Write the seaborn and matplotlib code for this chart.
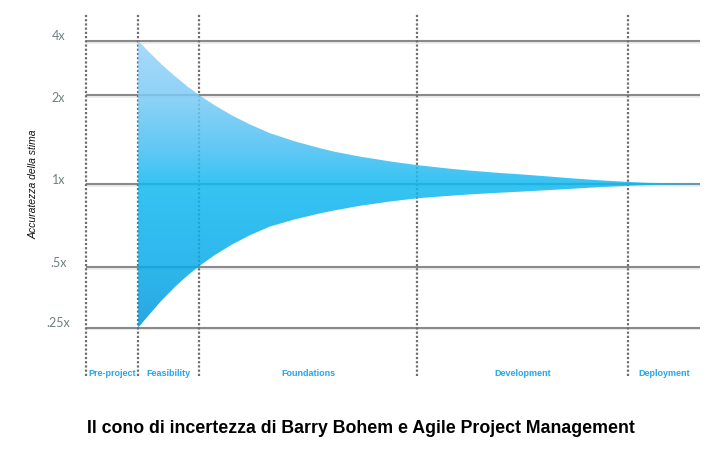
import numpy as np
import matplotlib
matplotlib.use("Agg")
import matplotlib.pyplot as plt
import matplotlib.transforms as mtransforms
import matplotlib.patheffects as pe
from matplotlib.colors import LinearSegmentedColormap
import seaborn as sns

# --- DATA (x = % of project time, y = estimate multiplier) ---
phase_names = ["Pre-project", "Feasibility", "Foundations", "Development", "Deployment"]
phase_edges = [0, 8.5, 18.4, 53.9, 88.3, 100]

cone_x = [8.5, 10.42, 12.38, 14.5, 16.61, 18.57, 21.01, 23.78, 26.71, 29.97,
          34.04, 38.11, 40.55, 44.63, 49.51, 53.91, 59.28, 62.54, 67.43, 70.68,
          74.76, 78.83, 82.9, 86.16, 88.27, 91.04, 95.11, 100]
cone_upper = [4.0, 3.433, 2.947, 2.543, 2.219, 1.989, 1.843, 1.706, 1.590, 1.485,
              1.3935, 1.3215, 1.285, 1.2379, 1.1924, 1.1586, 1.1265, 1.110, 1.0895, 1.0785,
              1.0626, 1.0462, 1.0316, 1.022, 1.0165, 1.0102, 1.0063, 1.0031]
cone_lower = [0.25, 0.2932, 0.3432, 0.3998, 0.4572, 0.5075, 0.5543, 0.6045, 0.6532, 0.7021,
              0.7455, 0.783, 0.8035, 0.8341, 0.8645, 0.8878, 0.9068, 0.9171, 0.9302, 0.9379,
              0.9489, 0.96, 0.9721, 0.9802, 0.9851, 0.9901, 0.9934, 0.9967]

levels = [0.25, 0.5, 1, 2, 4]
level_labels = [".25x", ".5x", "1x", "2x", "4x"]

title = "Il cono di incertezza di Barry Bohem e Agile Project Management"
ylabel = "Accuratezza della stima"

# --- y scale: the diagram spaces the levels unevenly ---
knots_log2 = [-3, -2, -1, 0, 1, 2, 3]
knots_pos = [-60.4, 0, 60.4, 143.7, 232.7, 286.7, 340.7]


def fwd(v):
    return np.interp(np.log2(np.maximum(v, 1e-9)), knots_log2, knots_pos)


def inv(p):
    return 2.0 ** np.interp(p, knots_pos, knots_log2)


sns.set_style("white")
plt.rcParams["font.family"] = ["Liberation Sans", "DejaVu Sans"]

fig = plt.figure(figsize=(7.26, 4.53), dpi=100)
ax = fig.add_axes([86 / 726, 77 / 453, 614 / 726, 363 / 453])
ax.set_yscale("function", functions=(fwd, inv))
ax.set_xlim(0, 100)
ax.set_ylim(inv(-48.3), inv(314.7))

# grid lines
shadow = [pe.SimpleLineShadow(offset=(0, -1.2), shadow_color="k", alpha=0.07), pe.Normal()]
for lv in levels:
    ax.axhline(lv, color="#8a8a8a", lw=1.5, zorder=1, path_effects=shadow)
for xe in phase_edges[:-1]:
    ax.axvline(xe, color="#6f6f6f", lw=1.6, linestyle=(0, (1.0, 0.9)), zorder=1, clip_on=False)

# cone with vertical gradient
poly = ax.fill_between(cone_x, cone_lower, cone_upper, facecolor="none", edgecolor="none", lw=0)
alpha = 0.85
stops = [(0.0, (38, 158, 220)), (0.135, (41, 166, 225)), (0.30, (45, 183, 236)),
         (0.529, (53, 196, 243)), (0.623, (96, 200, 245)), (0.774, (143, 211, 247)),
         (0.923, (168, 218, 250)), (1.0, (176, 222, 252))]
cols = [(p, tuple(np.clip((np.array(c) / 255 - (1 - alpha)) / alpha, 0, 1))) for p, c in stops]
cmap = LinearSegmentedColormap.from_list("cone", cols)
grad = np.linspace(0, 1, 512).reshape(-1, 1)
img = ax.imshow(grad, extent=[0, 1, 0, 1], transform=ax.transAxes, origin="lower",
                aspect="auto", cmap=cmap, alpha=alpha, zorder=2, interpolation="bilinear")
img.set_clip_path(poly.get_paths()[0], transform=ax.transData)

# phase labels
tr = mtransforms.blended_transform_factory(ax.transData, ax.transAxes)
for name, a, b in zip(phase_names, phase_edges[:-1], phase_edges[1:]):
    ax.text((a + b) / 2, 0.008, name, transform=tr, ha="center", va="center",
            fontsize=6.5, fontweight="bold", color="#22a7f0")

# y tick labels
ax.set_yticks(levels)
ax.set_yticklabels(level_labels)
ax.yaxis.set_minor_locator(matplotlib.ticker.NullLocator())
ax.tick_params(axis="y", length=0, pad=19.8, labelsize=9, labelcolor="#6f7f80")
ax.set_xticks([])
nudges_px = [6, 5, 4.7, -2.3, 6.4]
for lab, dy in zip(ax.get_yticklabels(), nudges_px):
    lab.set_horizontalalignment("center")
    lab.set_fontfamily(["Lato", "DejaVu Sans"])
    lab.set_transform(lab.get_transform() + mtransforms.ScaledTranslation(0, dy / 100, fig.dpi_scale_trans))

ax.set_ylabel(ylabel, fontsize=7.5, fontstyle="italic", color="#111111")
ax.yaxis.set_label_coords(-0.077, 0.529)

sns.despine(ax=ax, left=True, bottom=True)
ax.set_facecolor("none")

fig.text(0.497, 0.055, title, ha="center", va="center", fontsize=12.8, fontweight="bold", color="black")

fig.savefig("out.png", dpi=100)
